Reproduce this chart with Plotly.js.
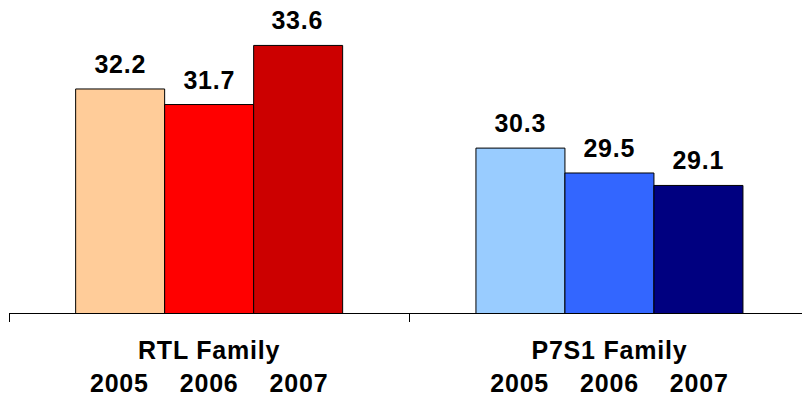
<!DOCTYPE html>
<html><head><meta charset="utf-8">
<script src="https://cdn.plot.ly/plotly-3.0.1.min.js"></script>
<style>
html,body{margin:0;padding:0;overflow:hidden;background:#fff}
#chart svg text{letter-spacing:0.8px}
</style>
</head><body><div id="chart" style="width:802px;height:395px"></div>
<script>
const categories = ["RTL Family", "P7S1 Family"];
const years = ["2005", "2006", "2007"];
const values2005 = [32.2, 30.3];
const values2006 = [31.7, 29.5];
const values2007 = [33.6, 29.1];
const colors2005 = ["#FFCC99", "#99CCFF"];
const colors2006 = ["#FF0000", "#3366FF"];
const colors2007 = ["#CC0000", "#000080"];

const xLabels = categories.map(c => c + "<br>" + years.join("\u00a0".repeat(4)));
const series = [values2005, values2006, values2007];
const colorSets = [colors2005, colors2006, colors2007];

const FONT = "Liberation Sans, Arial, sans-serif";
const traces = series.map((vals, i) => ({
  type: "bar",
  name: years[i],
  x: xLabels,
  y: vals,
  marker: {color: colorSets[i], line: {color: "#000000", width: 1}},
  hoverinfo: "none"
}));

const barPx = 88.7;
const annotations = [];
series.forEach((vals, i) => {
  vals.forEach((v, j) => {
    annotations.push({
      x: xLabels[j], y: v, xref: "x", yref: "y",
      text: v.toFixed(1), showarrow: false,
      xshift: (i - 1) * barPx, yshift: 9, yanchor: "bottom",
      font: {family: FONT, size: 25, color: "#000", weight: "bold"}
    });
  });
});

const layout = {
  width: 802, height: 395,
  margin: {l: 9, r: 0, t: 0, b: 82},
  paper_bgcolor: "#fff", plot_bgcolor: "#fff",
  showlegend: false,
  barmode: "group", bargap: 0.333, bargroupgap: 0,
  xaxis: {
    type: "category", range: [-0.5, 1.481], automargin: false,
    showline: true, linecolor: "#000", linewidth: 1,
    ticks: "outside", tickson: "boundaries", ticklen: 8, tickcolor: "#000", tickwidth: 1,
    ticklabelstandoff: 15,
    showgrid: false, zeroline: false,
    tickfont: {family: FONT, size: 25, color: "#000", weight: "bold"}
  },
  yaxis: {range: [25, 35.06], visible: false, showgrid: false, zeroline: false, automargin: false},
  annotations: annotations
};
Plotly.newPlot("chart", traces, layout, {displayModeBar: false, staticPlot: true});
</script></body></html>
